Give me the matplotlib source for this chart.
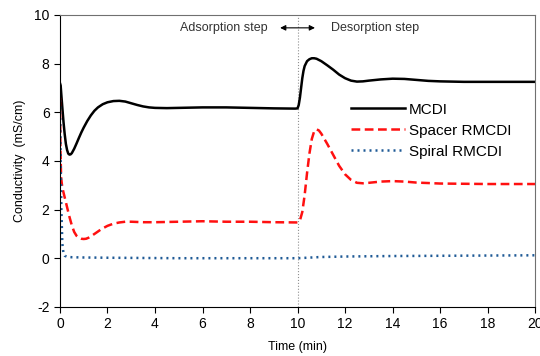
import matplotlib
matplotlib.use("Agg")
import matplotlib.pyplot as plt

plt.rcParams['font.family'] = ['Liberation Sans', 'DejaVu Sans']
plt.rcParams['axes.unicode_minus'] = False

# conductivity vs time
t_mcdi = [0, 0.03, 0.06, 0.1, 0.15, 0.2, 0.25, 0.3, 0.35, 0.4, 0.45, 0.5, 0.6, 0.7, 0.8,
          0.9, 1.0, 1.15, 1.3, 1.45, 1.6, 1.8, 2.0, 2.25, 2.5, 2.75, 3.0, 3.25, 3.5, 3.75,
          4.0, 4.5, 5.0, 6.0, 7.0, 8.0, 9.0, 9.9, 10.0, 10.05, 10.1, 10.15, 10.2, 10.25,
          10.3, 10.4, 10.5, 10.6, 10.7, 10.8, 10.9, 11.0, 11.25, 11.5, 11.75, 12.0, 12.25,
          12.5, 12.75, 13.0, 13.5, 14.0, 14.5, 15.0, 15.5, 16.0, 17.0, 18.0, 20.0]
mcdi = [7.2, 7.1, 6.7, 6.2, 5.6, 5.1, 4.7, 4.45, 4.3, 4.26, 4.27, 4.32, 4.5, 4.72, 4.95,
        5.17, 5.37, 5.64, 5.87, 6.06, 6.2, 6.33, 6.41, 6.46, 6.47, 6.44, 6.37, 6.3, 6.24, 6.2,
        6.18, 6.17, 6.18, 6.2, 6.2, 6.18, 6.16, 6.15, 6.16, 6.3, 6.6, 7.0, 7.4, 7.7,
        7.9, 8.1, 8.18, 8.22, 8.22, 8.2, 8.15, 8.1, 7.93, 7.75, 7.55, 7.4, 7.3,
        7.26, 7.27, 7.3, 7.35, 7.38, 7.37, 7.33, 7.29, 7.27, 7.25, 7.25, 7.25]

t_spacer = [0, 0.02, 0.05, 0.1, 0.15, 0.2, 0.3, 0.4, 0.5, 0.6, 0.7, 0.8, 0.9, 1.0, 1.1,
            1.2, 1.35, 1.5, 1.75, 2.0, 2.25, 2.5, 2.75, 3.0, 3.5, 4.0, 5.0, 6.0, 7.0,
            8.0, 9.0, 10.0, 10.1, 10.2, 10.3, 10.4, 10.5, 10.6, 10.7, 10.8, 10.9, 11.0,
            11.25, 11.5, 11.75, 12.0, 12.25, 12.5, 12.75, 13.0, 13.5, 14.0, 14.5, 15.0,
            16.0, 18.0, 20.0]
spacer = [6.6, 4.5, 3.3, 2.9, 2.7, 2.5, 2.1, 1.7, 1.35, 1.08, 0.92, 0.84, 0.8, 0.79, 0.8,
          0.84, 0.93, 1.03, 1.2, 1.33, 1.42, 1.47, 1.5, 1.5, 1.48, 1.48, 1.5, 1.52, 1.5,
          1.5, 1.48, 1.47, 1.55, 1.9, 2.6, 3.5, 4.3, 4.9, 5.22, 5.3, 5.25, 5.12,
          4.7, 4.25, 3.8, 3.45, 3.22, 3.1, 3.08, 3.1, 3.15, 3.17, 3.15, 3.11,
          3.07, 3.05, 3.05]

t_spiral = [0, 0.03, 0.06, 0.1, 0.15, 0.2, 0.3, 0.5, 1.0, 2.0, 5.0, 8.0, 10.0, 11.0, 12.0,
            14.0, 16.0, 18.0, 20.0]
spiral = [6.5, 4.0, 2.0, 0.6, 0.2, 0.1, 0.06, 0.04, 0.03, 0.02, 0.0, 0.0, 0.0, 0.05, 0.07,
          0.09, 0.1, 0.11, 0.12]

fig = plt.figure(figsize=(5.4, 3.56), dpi=100)
ax = fig.add_axes([0.111, 0.138, 0.88, 0.82])

ax.axvline(10, color='#909090', lw=0.8, ls=':', zorder=1)

ax.plot(t_mcdi, mcdi, color='black', lw=1.8, label='MCDI')
ax.plot(t_spacer, spacer, color='#ff1010', lw=1.8, ls=(0, (3.5, 1.8)), label='Spacer RMCDI')
ax.plot(t_spiral, spiral, color='#1f5a96', lw=1.8, ls=(0, (0.8, 1.6)), label='Spiral RMCDI')

ax.set_xlim(0, 20)
ax.set_ylim(-2, 10)
ax.set_xticks(range(0, 21, 2))
ax.set_yticks(range(-2, 11, 2))
ax.tick_params(labelsize=10, direction='out', length=4, top=False, right=False)

for s in ['top', 'right']:
    ax.spines[s].set_color('#707070')
    ax.spines[s].set_linewidth(0.8)

ax.set_xlabel('Time (min)', fontsize=9, labelpad=7)
ax.set_ylabel('Conductivity  (mS/cm)', fontsize=9, labelpad=6)

# step annotation
ax.annotate('', xy=(9.15, 9.47), xytext=(10.85, 9.47),
            arrowprops=dict(arrowstyle='<|-|>', color='black', lw=0.8,
                            mutation_scale=8))
ax.text(8.75, 9.47, 'Adsorption step', ha='right', va='center', fontsize=9, color='#333333')
ax.text(11.4, 9.47, 'Desorption step', ha='left', va='center', fontsize=9, color='#333333')

ax.legend(loc='upper left', bbox_to_anchor=(0.6, 0.72), frameon=False, fontsize=11,
          handlelength=3.5, handletextpad=0.3, labelspacing=0.45, borderaxespad=0)

fig.savefig('out.png', dpi=100)
